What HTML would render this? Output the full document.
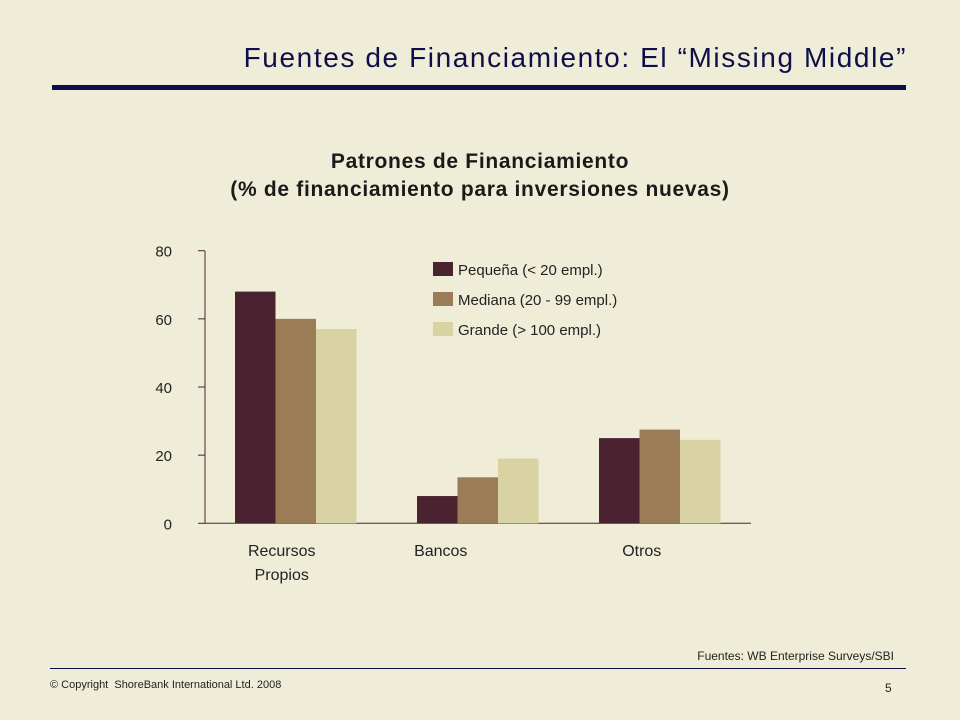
<!DOCTYPE html>
<html><head><meta charset="utf-8">
<style>
html,body{margin:0;padding:0;}
body{width:960px;height:720px;background:#EFEDD8;position:relative;overflow:hidden;font-family:"Liberation Sans",Arial,sans-serif;}
.abs{position:absolute;}
</style></head>
<body>
<div class="abs" style="right:53px;top:42px;font-size:28px;letter-spacing:1.6px;color:#0E0F4A;white-space:nowrap;">Fuentes de Financiamiento: El “Missing Middle”</div>
<div class="abs" style="left:52px;top:85px;width:854px;height:5px;background:#0E0F4A;"></div>
<div class="abs" style="left:0;width:960px;top:148px;text-align:center;font-size:21px;font-weight:bold;color:#1a1a1a;line-height:28px;letter-spacing:0.7px;">Patrones de Financiamiento<br>(% de financiamiento para inversiones nuevas)</div>
<svg class="abs" style="left:0;top:0" width="960" height="720">
<g id="axes"></g><g id="bars"></g><g id="legend"></g>
</svg>
<div class="abs" style="right:66px;top:649px;font-size:12px;color:#222;">Fuentes: WB Enterprise Surveys/SBI</div>
<div class="abs" style="left:50px;top:668px;width:856px;height:1px;background:#0E0F4A;"></div>
<div class="abs" style="left:50px;top:679px;font-size:11px;color:#222;">© Copyright &nbsp;ShoreBank International Ltd. 2008</div>
<div class="abs" style="left:885px;top:681px;font-size:12px;color:#222;">5</div>
<script>
const categories=["Recursos\nPropios","Bancos","Otros"];
const seriesNames=["Pequeña (< 20 empl.)","Mediana (20 - 99 empl.)","Grande (> 100 empl.)"];
const pequena=[68,8,25];
const mediana=[60,13.5,27.5];
const grande=[57,19,24.5];
const yTicks=[0,20,40,60,80];
const colors=["#4B2330","#9A7D56","#D9D2A3"];
const NS="http://www.w3.org/2000/svg";
const y0=523.3,yTop=250.7,yMax=80;
const yScale=v=>y0-(v/yMax)*(y0-yTop);
const axisX=205,axisEnd=751,g0=235,gStep=182,bw=40.5;
const xBar=(c,s)=>g0+c*gStep+s*bw;
const labelShift=[-14,-37,-18];
function mk(tag,attrs,parent){const e=document.createElementNS(NS,tag);for(const k in attrs)e.setAttribute(k,attrs[k]);parent.appendChild(e);return e;}
const axes=document.getElementById('axes');
let yl=mk('line',{x1:axisX,x2:axisX,y1:yScale(80),y2:y0,stroke:'#4B2330','stroke-width':1},axes);


let xl=mk('line',{x1:axisX,x2:axisEnd,y1:y0,y2:y0,stroke:'#4B2330','stroke-width':1},axes);


yTicks.forEach(t=>{
  const y=yScale(t);
  let tk=mk('line',{x1:axisX-7,x2:axisX,y1:y,y2:y,stroke:'#4B2330'},axes);
  
  
  let tx=mk('text',{x:172,y:y+6,'text-anchor':'end','font-size':15,fill:'#222'},axes);
  tx.textContent=t;
  
  
});
const series=[pequena,mediana,grande];
const bars=document.getElementById('bars');
series.forEach((arr,s)=>arr.forEach((v,c)=>{
  let r=mk('rect',{x:xBar(c,s),y:yScale(v),width:bw,height:y0-yScale(v),fill:colors[s]},bars);
  
  
}));
categories.forEach((cat,c)=>{
  const cx=xBar(c,0)+bw*1.5+labelShift[c];
  cat.split("\n").forEach((ln,i)=>{
    let t=mk('text',{x:cx,y:556+i*24,'text-anchor':'middle','font-size':16,fill:'#222'},axes);
    t.textContent=ln;
    
    
  });
});
const leg=document.getElementById('legend');
seriesNames.forEach((n,i)=>{
  const y=262+i*30;
  let sw=mk('rect',{x:433,y:y,width:20,height:14,fill:colors[i]},leg);
  
  
  let t=mk('text',{x:458,y:y+13,'font-size':15,fill:'#222'},leg);
  t.textContent=n;
  
  
});
</script>
</body></html>
